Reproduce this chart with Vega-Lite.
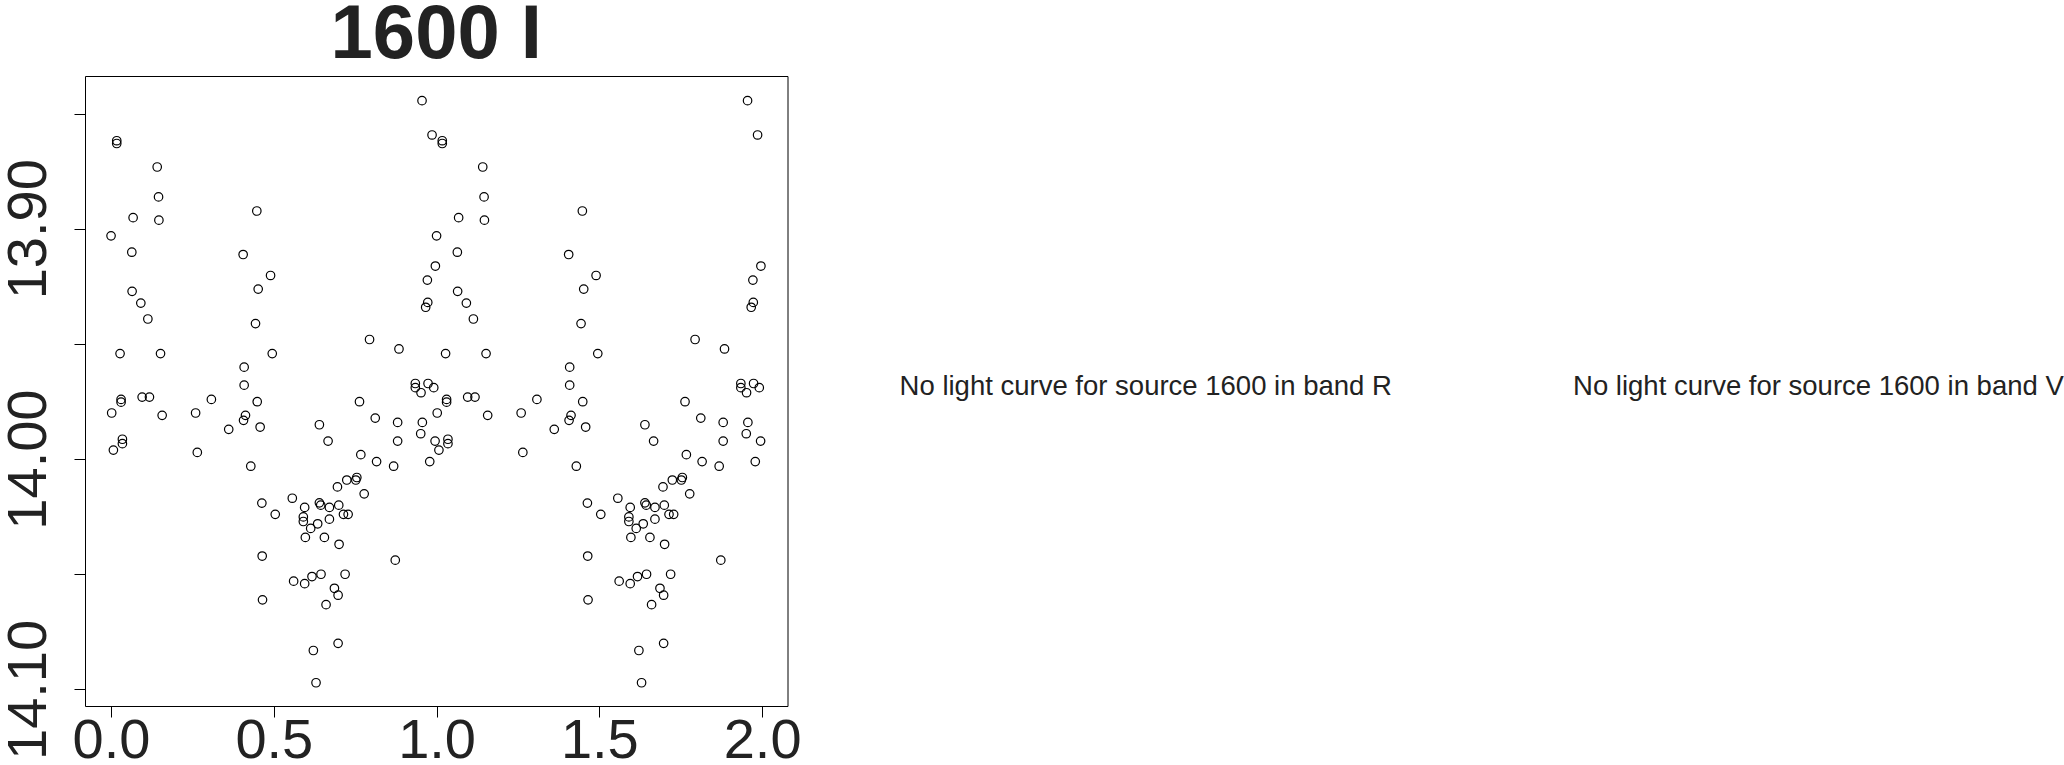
{
  "$schema": "https://vega.github.io/schema/vega-lite/v6.json",
  "background": "white",
  "padding": {"left": -1, "top": -4, "right": 0, "bottom": -5},
  "config": {
    "view": {"stroke": null},
    "font": "Liberation Sans"
  },
  "bounds": "flush",
  "spacing": 20,
  "hconcat": [
    {
      "width": 702.5,
      "height": 630,
      "view": {"stroke": "black", "strokeWidth": 1},
      "title": {"text": "1600 I", "fontSize": 76, "fontWeight": "bold", "font": "Liberation Sans", "color": "#222222", "anchor": "middle", "baseline": "alphabetic", "offset": -57.5, "frame": "group"},
      "data": {"values": [
        {"p":0.0175,"m":13.8618},{"p":0.0175,"m":13.8630},{"p":0.1418,"m":13.8732},{"p":0.1459,"m":13.8862},{"p":0.0678,"m":13.8952},{"p":0.1470,"m":13.8963},{"p":0.0000,"m":13.9031},{"p":0.0638,"m":13.9102},{"p":0.0647,"m":13.9272},{"p":0.0915,"m":13.9323},{"p":0.1131,"m":13.9392},{"p":0.0277,"m":13.9542},{"p":0.1520,"m":13.9542},{"p":0.4478,"m":13.8923},{"p":0.4058,"m":13.9112},{"p":0.4900,"m":13.9203},{"p":0.4520,"m":13.9262},{"p":0.4438,"m":13.9412},{"p":0.4952,"m":13.9542},{"p":0.4089,"m":13.9601},{"p":0.4089,"m":13.9679},{"p":0.0308,"m":13.9741},{"p":0.0308,"m":13.9753},{"p":0.0955,"m":13.9731},{"p":0.1180,"m":13.9731},{"p":0.0020,"m":13.9800},{"p":0.1570,"m":13.9810},{"p":0.0349,"m":13.9914},{"p":0.0349,"m":13.9933},{"p":0.0072,"m":13.9961},{"p":0.2598,"m":13.9800},{"p":0.2650,"m":13.9971},{"p":0.3082,"m":13.9741},{"p":0.3615,"m":13.9871},{"p":0.4490,"m":13.9751},{"p":0.4130,"m":13.9810},{"p":0.4070,"m":13.9832},{"p":0.4580,"m":13.9861},{"p":0.4293,"m":14.0031},{"p":0.4633,"m":14.0191},{"p":0.5044,"m":14.0240},{"p":0.4643,"m":14.0421},{"p":0.4653,"m":14.0611},{"p":0.5568,"m":14.0170},{"p":0.5948,"m":14.0210},{"p":0.5907,"m":14.0251},{"p":0.5907,"m":14.0271},{"p":0.6133,"m":14.0301},{"p":0.5969,"m":14.0340},{"p":0.6348,"m":14.0281},{"p":0.6400,"m":14.0190},{"p":0.6441,"m":14.0200},{"p":0.6708,"m":14.0210},{"p":0.6708,"m":14.0261},{"p":0.6554,"m":14.0340},{"p":0.6995,"m":14.0200},{"p":0.7140,"m":14.0240},{"p":0.7283,"m":14.0240},{"p":0.7005,"m":14.0370},{"p":0.6955,"m":14.0121},{"p":0.7242,"m":14.0091},{"p":0.7519,"m":14.0091},{"p":0.7550,"m":14.0080},{"p":0.7776,"m":14.0151},{"p":0.5609,"m":14.0530},{"p":0.5948,"m":14.0541},{"p":0.6173,"m":14.0510},{"p":0.6450,"m":14.0500},{"p":0.7190,"m":14.0500},{"p":0.6862,"m":14.0561},{"p":0.6975,"m":14.0591},{"p":0.6605,"m":14.0632},{"p":0.6215,"m":14.0831},{"p":0.6975,"m":14.0800},{"p":0.6297,"m":14.0971},{"p":0.6400,"m":13.9851},{"p":0.6667,"m":13.9922},{"p":0.7632,"m":13.9751},{"p":0.7673,"m":13.9981},{"p":0.8116,"m":13.9822},{"p":0.8157,"m":14.0011},{"p":0.8681,"m":14.0031},{"p":0.8731,"m":14.0439},{"p":0.8804,"m":13.9841},{"p":0.8804,"m":13.9922},{"p":0.9347,"m":13.9672},{"p":0.9347,"m":13.9690},{"p":0.9738,"m":13.9672},{"p":0.9913,"m":13.9690},{"p":0.9522,"m":13.9712},{"p":0.9563,"m":13.9841},{"p":0.9513,"m":13.9890},{"p":0.9790,"m":14.0011},{"p":0.9954,"m":13.9922},{"p":0.9553,"m":13.8444},{"p":0.9861,"m":13.8593},{"p":0.9963,"m":13.9162},{"p":0.9717,"m":13.9223},{"p":0.9729,"m":13.9320},{"p":0.9665,"m":13.9341},{"p":0.7941,"m":13.9481},{"p":0.8845,"m":13.9522},
        {"p":1.0175,"m":13.8618},{"p":1.0175,"m":13.8630},{"p":1.1418,"m":13.8732},{"p":1.1459,"m":13.8862},{"p":1.0678,"m":13.8952},{"p":1.1470,"m":13.8963},{"p":1.0000,"m":13.9031},{"p":1.0638,"m":13.9102},{"p":1.0647,"m":13.9272},{"p":1.0915,"m":13.9323},{"p":1.1131,"m":13.9392},{"p":1.0277,"m":13.9542},{"p":1.1520,"m":13.9542},{"p":1.4478,"m":13.8923},{"p":1.4058,"m":13.9112},{"p":1.4900,"m":13.9203},{"p":1.4520,"m":13.9262},{"p":1.4438,"m":13.9412},{"p":1.4952,"m":13.9542},{"p":1.4089,"m":13.9601},{"p":1.4089,"m":13.9679},{"p":1.0308,"m":13.9741},{"p":1.0308,"m":13.9753},{"p":1.0955,"m":13.9731},{"p":1.1180,"m":13.9731},{"p":1.0020,"m":13.9800},{"p":1.1570,"m":13.9810},{"p":1.0349,"m":13.9914},{"p":1.0349,"m":13.9933},{"p":1.0072,"m":13.9961},{"p":1.2598,"m":13.9800},{"p":1.2650,"m":13.9971},{"p":1.3082,"m":13.9741},{"p":1.3615,"m":13.9871},{"p":1.4490,"m":13.9751},{"p":1.4130,"m":13.9810},{"p":1.4070,"m":13.9832},{"p":1.4580,"m":13.9861},{"p":1.4293,"m":14.0031},{"p":1.4633,"m":14.0191},{"p":1.5044,"m":14.0240},{"p":1.4643,"m":14.0421},{"p":1.4653,"m":14.0611},{"p":1.5568,"m":14.0170},{"p":1.5948,"m":14.0210},{"p":1.5907,"m":14.0251},{"p":1.5907,"m":14.0271},{"p":1.6133,"m":14.0301},{"p":1.5969,"m":14.0340},{"p":1.6348,"m":14.0281},{"p":1.6400,"m":14.0190},{"p":1.6441,"m":14.0200},{"p":1.6708,"m":14.0210},{"p":1.6708,"m":14.0261},{"p":1.6554,"m":14.0340},{"p":1.6995,"m":14.0200},{"p":1.7140,"m":14.0240},{"p":1.7283,"m":14.0240},{"p":1.7005,"m":14.0370},{"p":1.6955,"m":14.0121},{"p":1.7242,"m":14.0091},{"p":1.7519,"m":14.0091},{"p":1.7550,"m":14.0080},{"p":1.7776,"m":14.0151},{"p":1.5609,"m":14.0530},{"p":1.5948,"m":14.0541},{"p":1.6173,"m":14.0510},{"p":1.6450,"m":14.0500},{"p":1.7190,"m":14.0500},{"p":1.6862,"m":14.0561},{"p":1.6975,"m":14.0591},{"p":1.6605,"m":14.0632},{"p":1.6215,"m":14.0831},{"p":1.6975,"m":14.0800},{"p":1.6297,"m":14.0971},{"p":1.6400,"m":13.9851},{"p":1.6667,"m":13.9922},{"p":1.7632,"m":13.9751},{"p":1.7673,"m":13.9981},{"p":1.8116,"m":13.9822},{"p":1.8157,"m":14.0011},{"p":1.8681,"m":14.0031},{"p":1.8731,"m":14.0439},{"p":1.8804,"m":13.9841},{"p":1.8804,"m":13.9922},{"p":1.9347,"m":13.9672},{"p":1.9347,"m":13.9690},{"p":1.9738,"m":13.9672},{"p":1.9913,"m":13.9690},{"p":1.9522,"m":13.9712},{"p":1.9563,"m":13.9841},{"p":1.9513,"m":13.9890},{"p":1.9790,"m":14.0011},{"p":1.9954,"m":13.9922},{"p":1.9553,"m":13.8444},{"p":1.9861,"m":13.8593},{"p":1.9963,"m":13.9162},{"p":1.9717,"m":13.9223},{"p":1.9729,"m":13.9320},{"p":1.9665,"m":13.9341},{"p":1.7941,"m":13.9481},{"p":1.8845,"m":13.9522}
      ]},
      "mark": {"type": "point", "shape": "circle", "filled": false, "stroke": "black", "strokeWidth": 1.2, "size": 72, "opacity": 1},
      "encoding": {
        "x": {
          "field": "p", "type": "quantitative",
          "scale": {"domain": [-0.08, 2.078], "nice": false, "zero": false},
          "axis": {"title": null, "values": [0, 0.5, 1, 1.5, 2], "format": ".1f", "grid": false, "domain": false,
                   "tickSize": 11, "tickColor": "black", "tickWidth": 1,
                   "labelFontSize": 56, "labelFont": "Liberation Sans", "labelColor": "#222222",
                   "labelBaseline": "top", "labelPadding": -3.5, "labelOverlap": false, "labelFlush": false}
        },
        "y": {
          "field": "m", "type": "quantitative",
          "scale": {"domain": [13.8337, 14.1072], "reverse": true, "nice": false, "zero": false},
          "axis": {"title": null, "values": [13.85, 13.9, 13.95, 14.0, 14.05, 14.1], "grid": false, "domain": false,
                   "labelExpr": "indexof(['13.90','14.00','14.10'], format(datum.value, '.2f')) >= 0 ? format(datum.value, '.2f') : ''",
                   "tickSize": 11, "tickColor": "black", "tickWidth": 1,
                   "labelFontSize": 56, "labelFont": "Liberation Sans", "labelColor": "#222222",
                   "labelAngle": -90, "labelAlign": "center", "labelBaseline": "alphabetic", "labelPadding": 28.7,
                   "labelOverlap": false, "labelFlush": false}
        }
      }
    },
    {
      "bounds": "flush",
      "spacing": 89.4,
      "hconcat": [
        {
          "width": 675.4,
          "height": 630,
          "data": {"values": [{"t": "No light curve for source 1600 in band R"}]},
          "mark": {"type": "text", "fontSize": 27.5, "font": "Liberation Sans", "color": "#222222", "baseline": "alphabetic", "align": "center", "dy": 4},
          "encoding": {"text": {"field": "t", "type": "nominal"}}
        },
        {
          "width": 490,
          "height": 630,
          "data": {"values": [{"t": "No light curve for source 1600 in band V"}]},
          "mark": {"type": "text", "fontSize": 27.5, "font": "Liberation Sans", "color": "#222222", "baseline": "alphabetic", "align": "center", "dy": 4},
          "encoding": {"text": {"field": "t", "type": "nominal"}}
        }
      ]
    }
  ]
}
